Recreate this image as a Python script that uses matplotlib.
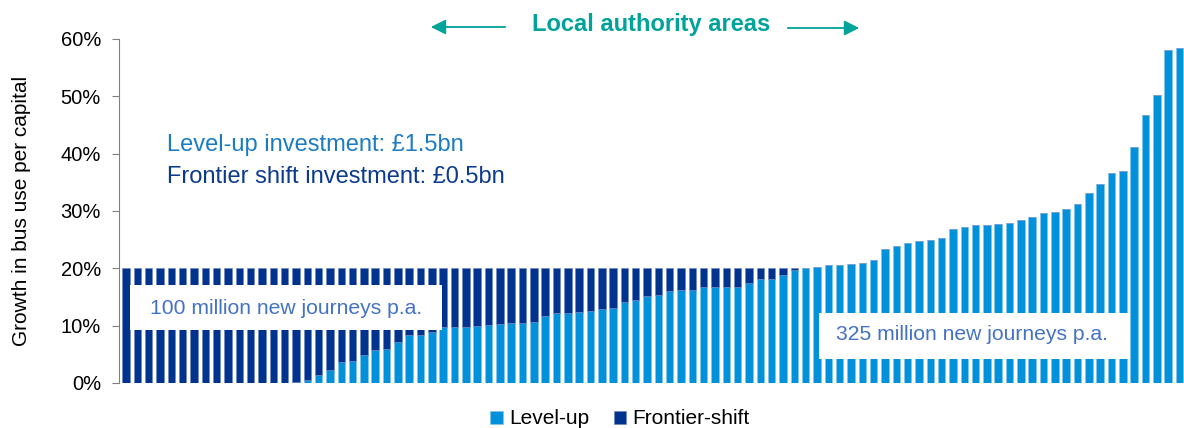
import matplotlib.pyplot as plt
from matplotlib.patches import Rectangle
import numpy as np

plt.rcParams['font.family'] = ['Liberation Sans', 'DejaVu Sans']

# growth in bus use per capita from level-up investment, one value per local authority area (%)
level_up = [
    0, 0, 0, 0, 0, 0, 0, 0, 0, 0, 0, 0, 0, 0, 0,
    0.2, 0.5, 1.4, 2.3, 3.7, 3.8, 4.9, 5.7, 5.9, 7.1, 8.3, 8.4, 8.9, 9.7, 9.8,
    9.8, 9.9, 10.2, 10.3, 10.4, 10.45, 10.6, 11.7, 12.2, 12.2, 12.4, 12.5, 12.9, 13.1, 14.1,
    14.5, 15.2, 15.3, 16.0, 16.2, 16.3, 16.7, 16.7, 16.7, 16.7, 17.5, 18.1, 18.2, 18.8, 19.7,
    20.0, 20.2, 20.6, 20.6, 20.7, 20.9, 21.5, 23.3, 23.9, 24.4, 24.7, 25.0, 25.3, 26.8, 27.2,
    27.5, 27.6, 27.8, 27.9, 28.4, 28.9, 29.6, 29.8, 30.3, 31.2, 33.2, 34.7, 36.7, 37.0, 41.1,
    46.7, 50.2, 58.1, 58.5,
]
frontier_target = 20.0
frontier_shift = [max(frontier_target - v, 0) for v in level_up]

series_names = ["Level-up", "Frontier-shift"]
y_ticks = [0, 10, 20, 30, 40, 50, 60]

light_blue = "#0091DA"
navy = "#00338D"
teal = "#00A39A"

fig = plt.figure(figsize=(11.84, 4.28), dpi=100)
ax = fig.add_axes([119 / 1184, 1 - 383 / 428, 1 - 119 / 1184, (383 - 39) / 428])

x = np.arange(len(level_up))
ax.bar(x, level_up, width=0.66, color=light_blue, edgecolor="#7fc4ec", linewidth=0.4,
       label=series_names[0], zorder=2)
ax.bar(x, frontier_shift, width=0.66, bottom=level_up, color=navy, edgecolor="#6f86bf",
       linewidth=0.4, label=series_names[1], zorder=2)

ax.set_xlim(-0.62, len(level_up) - 0.6)
ax.set_ylim(0, 60)
ax.set_yticks(y_ticks)
ax.set_yticklabels([f"{t}%" for t in y_ticks], fontsize=14.5)
ax.set_xticks([])
for s in ["top", "right", "bottom"]:
    ax.spines[s].set_visible(False)
ax.spines["left"].set_color("#808080")
ax.tick_params(axis="y", length=5, color="#808080", pad=8)
ax.set_ylabel("Growth in bus use per capital", fontsize=15)
ax.yaxis.set_label_coords(-88 / 1065, 0.5)

# white label boxes over the bars
ax.add_patch(Rectangle((130 / 1184, 1 - 330 / 428), 312 / 1184, 45 / 428, transform=fig.transFigure,
                       facecolor="white", edgecolor="none", zorder=4, clip_on=False))
fig.text(150 / 1184, 1 - 308 / 428, "100 million new journeys p.a.", fontsize=15.2, color="#4472C4",
         va="center", zorder=5)
ax.add_patch(Rectangle((819 / 1184, 1 - 359 / 428), 309 / 1184, 46 / 428, transform=fig.transFigure,
                       facecolor="white", edgecolor="none", zorder=4, clip_on=False))
fig.text(836 / 1184, 1 - 335 / 428, "325 million new journeys p.a.", fontsize=15.2, color="#4472C4",
         va="center", zorder=5)

fig.text(167 / 1184, 1 - 145 / 428, "Level-up investment: £1.5bn", fontsize=17, color="#1B7CC4",
         va="center")
fig.text(167 / 1184, 1 - 177 / 428, "Frontier shift investment: £0.5bn", fontsize=17, color="#0B3A8E",
         va="center")

# header with arrows
fig.text(651 / 1184, 1 - 25 / 428, "Local authority areas", fontsize=17, fontweight="bold",
         color=teal, ha="center", va="center")
arrow = dict(arrowstyle="-|>,head_length=0.9,head_width=0.45", color=teal, lw=1.3)
ax.annotate("", xy=(428 / 1184, 1 - 27 / 428), xytext=(508 / 1184, 1 - 27 / 428),
            xycoords="figure fraction", textcoords="figure fraction", arrowprops=arrow)
ax.annotate("", xy=(862 / 1184, 1 - 28 / 428), xytext=(785 / 1184, 1 - 28 / 428),
            xycoords="figure fraction", textcoords="figure fraction", arrowprops=arrow)

fig.legend(loc="center", bbox_to_anchor=(620 / 1184, 1 - 419 / 428), ncol=2, frameon=False,
           fontsize=15, handlelength=0.6, handleheight=0.6, handletextpad=0.3, columnspacing=1.2)

fig.savefig("out.png", dpi=100)
